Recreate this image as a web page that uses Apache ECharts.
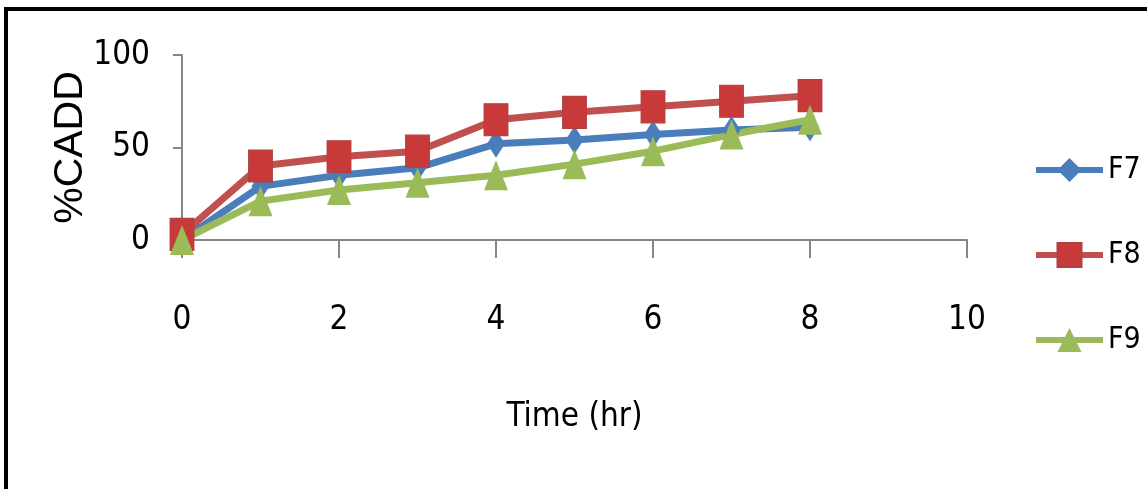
<!DOCTYPE html>
<html>
<head>
<meta charset="utf-8">
<script src="https://cdn.jsdelivr.net/npm/echarts@6/dist/echarts.min.js"></script>
<style>
html,body{margin:0;padding:0;background:#fff;}
#wrap{position:relative;width:1147px;height:489px;overflow:hidden;background:#fff;}
#frame{position:absolute;left:4px;top:7px;right:-10px;bottom:-10px;border-top:4px solid #000;border-left:4px solid #000;}
#chart{position:absolute;left:0;top:0;width:1147px;height:489px;}
</style>
</head>
<body>
<div id="wrap"><div id="frame"></div><div id="chart"></div></div>
<script>
const times = [0, 1, 2, 3, 4, 5, 6, 7, 8];
const F7 = [0, 29, 35, 39, 52, 54, 57, 59.5, 61];
const F8 = [3, 40, 45, 48, 65, 69, 72, 75, 78];
const F9 = [0, 21, 27, 31, 35, 41, 48, 57, 65];
const seriesNames = ['F7', 'F8', 'F9'];
const xTicks = {min: 0, max: 10, interval: 2};
const yTicks = {min: 0, max: 100, interval: 50};

const narrow = "'Liberation Sans Narrow','DejaVu Sans Condensed','Arial Narrow',sans-serif";
const pair = arr => times.map((t, i) => [t, arr[i]]);
const axisGray = '#868686';

const chart = echarts.init(document.getElementById('chart'), null, {renderer: 'canvas'});
chart.setOption({
  backgroundColor: 'transparent',
  animation: false,
  grid: {left: 182, right: 180, top: 55, bottom: 249},
  legend: {
    orient: 'vertical',
    left: 1033,
    top: 155,
    padding: 0,
    itemWidth: 67,
    itemHeight: 30,
    itemGap: 55,
    lineStyle: {width: 6},
    textStyle: {fontFamily: narrow, fontSize: 30, color: '#000', padding: [0, 0, 0, 0]},
    data: seriesNames
  },
  xAxis: {
    type: 'value', min: xTicks.min, max: xTicks.max, interval: xTicks.interval,
    name: 'Time (hr)', nameLocation: 'middle', nameGap: 161,
    nameTextStyle: {fontFamily: narrow, fontSize: 33, color: '#000'},
    axisLine: {show: true, lineStyle: {color: axisGray, width: 2}},
    axisTick: {show: true, length: 18, lineStyle: {color: axisGray, width: 2}},
    axisLabel: {margin: 64, fontFamily: narrow, fontSize: 33, color: '#000'},
    splitLine: {show: false}
  },
  yAxis: {
    type: 'value', min: yTicks.min, max: yTicks.max, interval: yTicks.interval,
    name: '%CADD', nameLocation: 'middle', nameGap: 96, nameRotate: 90, nameMoveOverlap: false,
    nameTextStyle: {fontFamily: "'Liberation Sans',Arial,sans-serif", fontSize: 41, lineHeight: 30, color: '#000'},
    axisLine: {show: true, lineStyle: {color: axisGray, width: 2}},
    axisTick: {show: true, length: 9, lineStyle: {color: axisGray, width: 2}},
    axisLabel: {margin: 32, fontFamily: narrow, fontSize: 33, color: '#000'},
    splitLine: {show: false}
  },
  series: [
    {name: 'F7', type: 'line', data: pair(F7), symbol: 'diamond', symbolSize: [18, 28],
     color: '#4A7EBB', lineStyle: {width: 7, color: '#4A7EBB'}, itemStyle: {color: '#4A7EBB'}},
    {name: 'F8', type: 'line', data: pair(F8), symbol: 'rect', symbolSize: [24, 32],
     color: '#C0504D', lineStyle: {width: 7, color: '#C0504D'}, itemStyle: {color: '#C83A3A', borderColor: '#B04040', borderWidth: 1}},
    {name: 'F9', type: 'line', data: pair(F9), symbol: 'triangle', symbolSize: [24, 30],
     color: '#9BBB59', lineStyle: {width: 7, color: '#9BBB59'}, itemStyle: {color: '#9BBB59'}}
  ]
});
</script>
</body>
</html>
